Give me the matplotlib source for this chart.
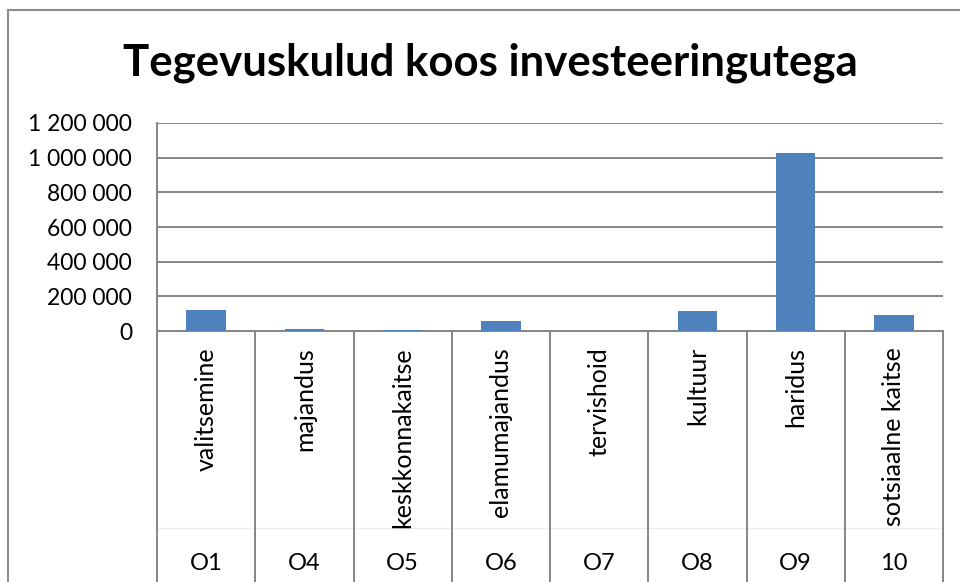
import matplotlib
matplotlib.use("Agg")
import matplotlib.pyplot as plt
import matplotlib.transforms as mtransforms
from matplotlib.patches import Rectangle

# data
codes = ["O1", "O4", "O5", "O6", "O7", "O8", "O9", "10"]
names = ["valitsemine", "majandus", "keskkonnakaitse", "elamumajandus",
         "tervishoid", "kultuur", "haridus", "sotsiaalne kaitse"]
values = [124000, 11000, 6000, 56000, 0, 118000, 1028000, 95000]
yticks = [0, 200000, 400000, 600000, 800000, 1000000, 1200000]

plt.rcParams['font.family'] = ['Lato', 'DejaVu Sans']
W, H = 960, 582
fig = plt.figure(figsize=(W / 100, H / 100), dpi=100)

# chart border (cut off on the right/bottom like the screenshot)
fig.patches.append(Rectangle((8 / W, -0.02), 1.1, 1 - 10 / H + 0.02,
                             transform=fig.transFigure, fill=False,
                             edgecolor='#8c8c8c', lw=1.5))

left, right, top, bottom = 157, 943, 123, 331
ax = fig.add_axes([left / W, 1 - bottom / H, (right - left) / W, (bottom - top) / H])

x = list(range(len(values)))
ax.bar(x, values, width=0.4, color='#4F81BD', zorder=3)
ax.set_xlim(-0.5, len(values) - 0.5)
ax.set_ylim(0, 1200000)
ax.set_yticks(yticks)
ax.set_yticklabels([f"{v:,}".replace(",", " ") for v in yticks], fontsize=16.5)
ax.tick_params(axis='y', length=0, pad=18)
ax.set_xticks([])
ax.grid(axis='y', color='#868686', lw=1.4, zorder=0)
for s in ['top', 'right']:
    ax.spines[s].set_visible(False)
for s in ['left', 'bottom']:
    ax.spines[s].set_color('#868686')
    ax.spines[s].set_linewidth(1.4)

# multi-level category axis below the plot
trans = mtransforms.blended_transform_factory(ax.transData, ax.transAxes)
ph = bottom - top
low = -(H - bottom + 5) / ph
ax.plot([-0.5, len(values) - 0.5], [-(528 - bottom) / ph] * 2, transform=trans,
        color='#ececec', lw=1, clip_on=False)
for b in [i - 0.5 for i in range(len(values) + 1)]:
    ax.plot([b, b], [0, low], transform=trans, color='#868686', lw=1.4, clip_on=False)
for i, (n, c) in enumerate(zip(names, codes)):
    ax.text(i, -16 / ph, n, transform=trans, rotation=90, ha='center', va='top', fontsize=18)
    ax.text(i, -(563 - bottom) / ph, c, transform=trans, ha='center', va='center', fontsize=17)

fig.text(490 / W, 1 - 63 / H, "Tegevuskulud koos investeeringutega",
         ha='center', va='center', fontsize=31.5, fontweight='bold')

fig.savefig("out.png", dpi=100)
